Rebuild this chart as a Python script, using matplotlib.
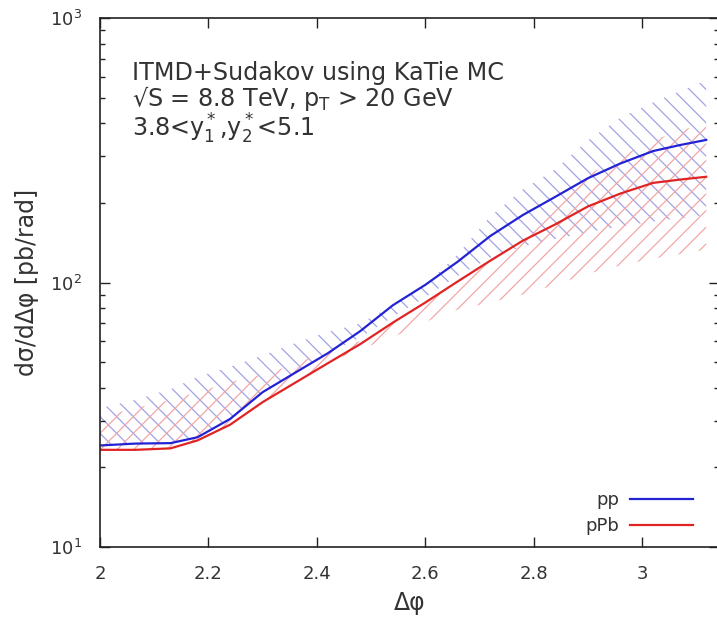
import numpy as np
import matplotlib
matplotlib.use('Agg')
import matplotlib.pyplot as plt
from matplotlib.ticker import FixedLocator, FormatStrFormatter, LogLocator

# delta phi bin points
dphi = [2.0, 2.065, 2.13, 2.18, 2.24, 2.30, 2.36, 2.42, 2.48, 2.54, 2.60,
        2.66, 2.72, 2.78, 2.84, 2.90, 2.96, 3.02, 3.07, 3.118]

# pp central + band
pp = [24.2, 24.6, 24.7, 26.0, 30.5, 38.5, 45.6, 54, 65.5, 82, 98,
      120, 150, 180, 211, 248, 282, 314, 331, 346]
pp_up = [33.5, 36, 39.5, 44, 48, 53, 59, 65, 70, 82, 98,
         128, 178, 225, 268, 345, 420, 480, 530, 580]
pp_lo = [24.2, 24.6, 24.7, 26.0, 30.5, 38.5, 45.6, 54, 62, 74, 88,
         106, 124, 137, 146, 155, 163, 170, 175, 180]

# pPb central + band
ppb = [23.3, 23.3, 23.6, 25.3, 29.0, 35.3, 41.8, 49.5, 58.5, 70.5, 84,
       101, 121, 144, 166, 194, 217, 238, 245, 251]
ppb_up = [31, 33.5, 36, 38.5, 42, 45, 49, 56, 60, 70.5, 84,
          101, 121, 150, 195, 255, 300, 345, 375, 401]
ppb_lo = [23.3, 23.3, 23.6, 25.3, 29.0, 35.3, 41.8, 49.5, 56, 62, 71,
          79, 84, 90, 98, 108, 116, 123, 128, 133]

xticks = [2, 2.2, 2.4, 2.6, 2.8, 3]

info = ['ITMD+Sudakov using KaTie MC',
        '√S = 8.8 TeV, p$_\\mathregular{T}$ > 20 GeV',
        '3.8<y$_1^*$,y$_2^*$<5.1']

blue = '#2323d6'
red = '#e02424'

plt.rcParams['hatch.linewidth'] = 0.9
plt.rcParams['font.family'] = 'DejaVu Sans'
plt.rcParams['mathtext.fontset'] = 'dejavusans'

fig = plt.figure(figsize=(7.17, 6.25), dpi=100)
ax = fig.add_axes([100/717, 78/625, 619/717, 529/625])

ax.fill_between(dphi, pp_lo, pp_up, facecolor='none', edgecolor='#a2a2e6',
                hatch='\\\\', linewidth=0)
ax.fill_between(dphi, ppb_lo, ppb_up, facecolor='none', edgecolor='#f2a6a6',
                hatch='//', linewidth=0)
ax.plot(dphi, pp, color=blue, lw=1.6, label='pp')
ax.plot(dphi, ppb, color=red, lw=1.6, label='pPb')

ax.set_yscale('log')
ax.set_xlim(2, np.pi)
ax.set_ylim(10, 1000)
ax.xaxis.set_major_locator(FixedLocator(xticks))
ax.xaxis.set_major_formatter(FormatStrFormatter('%g'))
ax.yaxis.set_major_locator(LogLocator(base=10))
ax.yaxis.set_minor_locator(LogLocator(base=10, subs=np.arange(2, 10)))

ax.tick_params(which='both', direction='in', top=True, right=True,
               labelsize=13, labelcolor='#333333', color='#222222')
ax.tick_params(which='major', length=7, width=1.0, pad=13)
ax.tick_params(which='minor', length=3.5, width=1.0)
for s in ax.spines.values():
    s.set_color('#222222')
    s.set_linewidth(1.2)

ax.set_xlabel('Δφ', fontsize=17, color='#333333', labelpad=6)
ax.set_ylabel('dσ/dΔφ [pb/rad]', fontsize=17, color='#333333', labelpad=8)

ax.text(0.052, 0.919, '\n'.join(info), transform=ax.transAxes,
        fontsize=17.2, color='#333333', va='top', linespacing=0.95)

leg = ax.legend(loc='lower right', bbox_to_anchor=(0.985, -0.008), frameon=False,
                markerfirst=False, fontsize=13, handlelength=3.5,
                labelspacing=0.45, handletextpad=0.6)
for t in leg.get_texts():
    t.set_color('#333333')
    t.set_ha('right')

fig.savefig('out.png', dpi=100)
